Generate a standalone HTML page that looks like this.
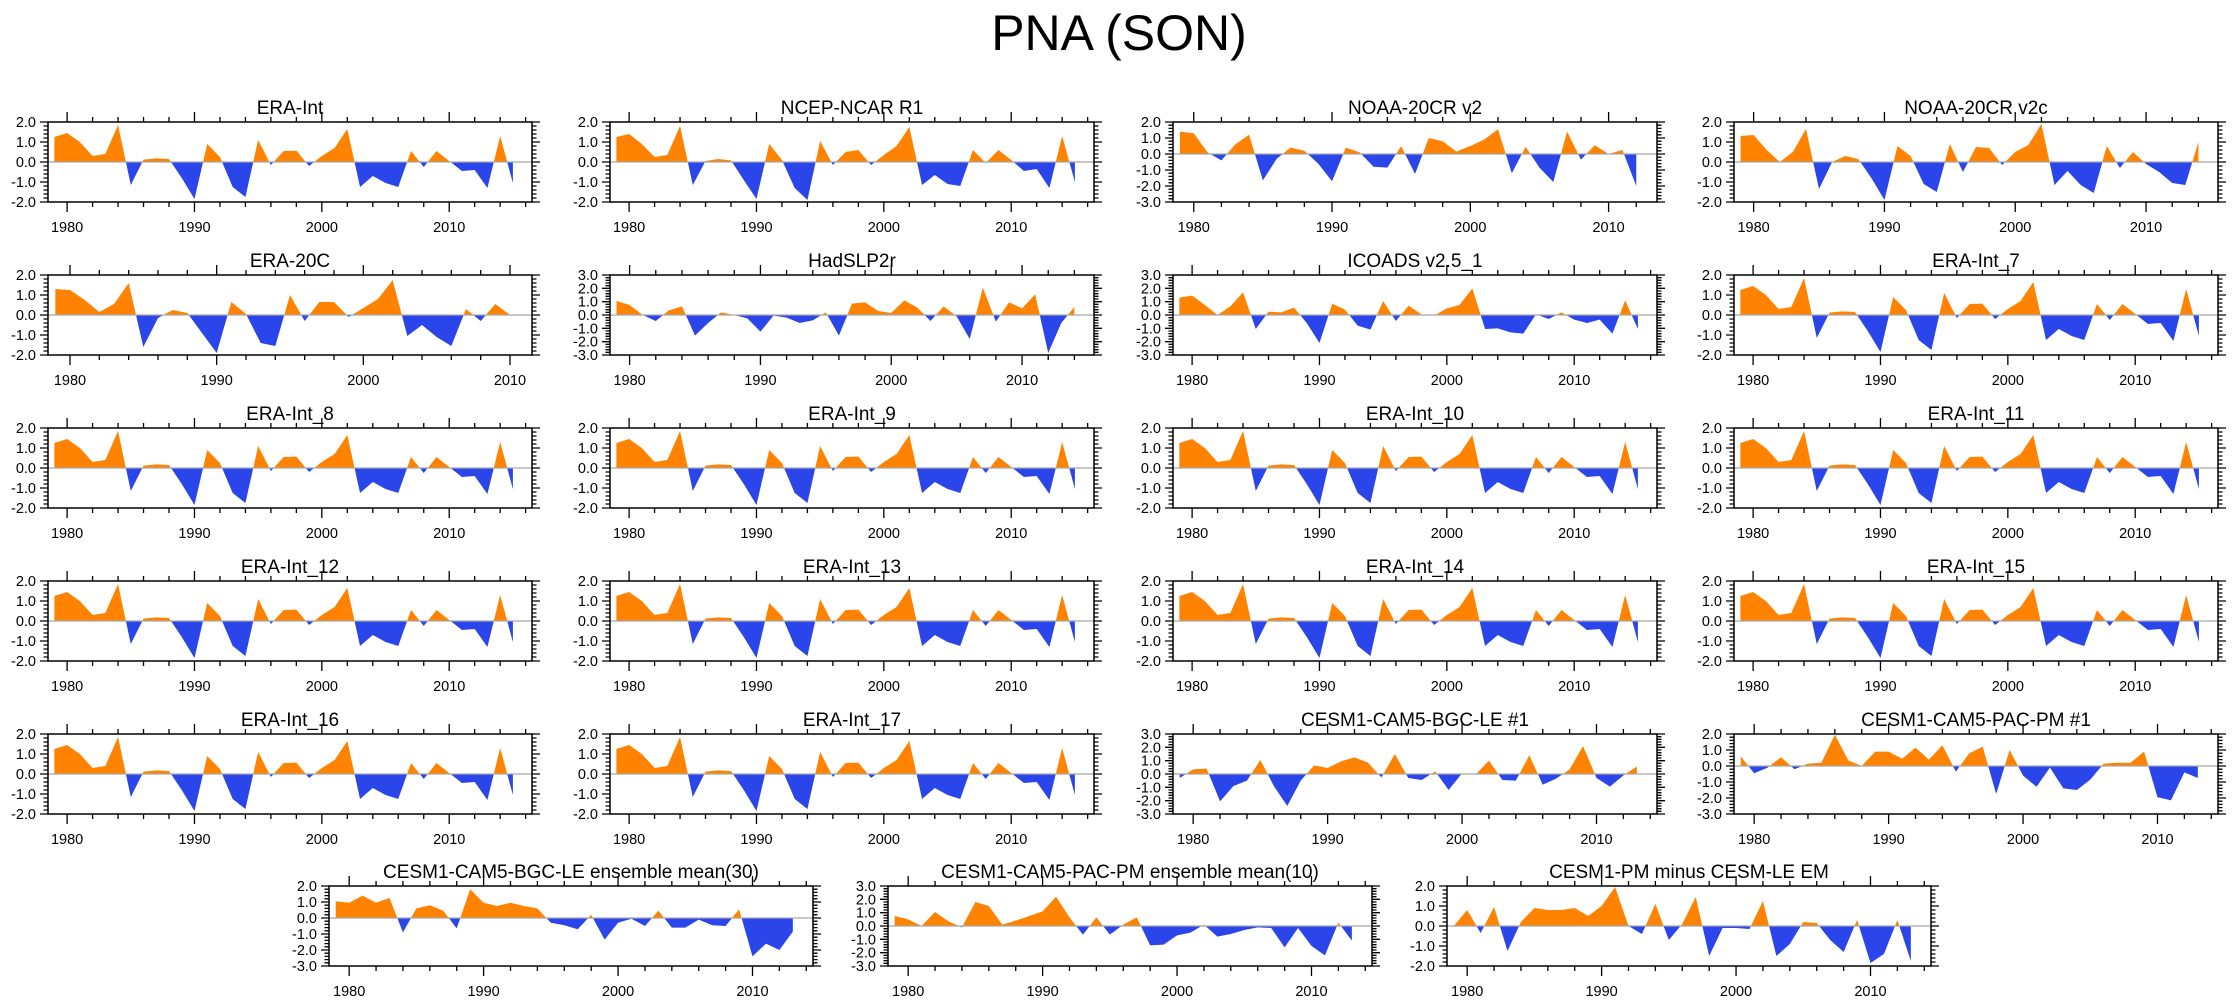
<!DOCTYPE html>
<html><head><meta charset="utf-8"><title>PNA (SON)</title>
<style>
html,body{margin:0;padding:0;background:#fff;}
svg{display:block;font-family:"Liberation Sans",Arial,sans-serif;}
</style></head>
<body>
<svg id="fig" xmlns="http://www.w3.org/2000/svg" width="2238" height="1005" viewBox="0 0 2238 1005">
<text x="1119" y="50" text-anchor="middle" font-size="50" fill="#000">PNA (SON)</text>
</svg>
<script>
// ---- data ----
const eraInt = [1.25,1.45,1.0,0.3,0.4,1.85,-1.15,0.12,0.18,0.15,-0.8,-1.85,0.9,0.25,-1.25,-1.75,1.1,-0.15,0.55,0.57,-0.2,0.3,0.7,1.65,-1.25,-0.7,-1.05,-1.25,0.55,-0.25,0.55,0.05,-0.45,-0.4,-1.3,1.3,-1.05];
const ncep = [1.25,1.4,0.9,0.25,0.35,1.8,-1.15,0.05,0.15,0.08,-0.9,-1.85,0.9,0.1,-1.3,-1.9,1.05,-0.15,0.5,0.6,-0.15,0.35,0.8,1.75,-1.15,-0.65,-1.1,-1.2,0.6,-0.05,0.6,0.1,-0.45,-0.35,-1.3,1.3,-1.0];
const noaaV2 = [1.4,1.3,0.1,-0.4,0.6,1.2,-1.65,-0.3,0.4,0.2,-0.6,-1.7,0.4,0.1,-0.8,-0.85,0.5,-1.25,1.0,0.8,0.15,0.5,0.9,1.55,-1.2,0.45,-0.85,-1.75,1.4,-0.35,0.55,0.0,0.25,-2.0];
const noaaV2c = [1.3,1.35,0.6,0.0,0.5,1.65,-1.35,0.0,0.3,0.15,-0.8,-1.9,0.8,0.3,-1.1,-1.5,0.9,-0.5,0.75,0.7,-0.15,0.5,0.85,1.9,-1.15,-0.45,-1.15,-1.55,0.8,-0.3,0.5,-0.1,-0.5,-1.05,-1.15,1.0];
const era20c = [1.3,1.25,0.75,0.15,0.55,1.6,-1.6,-0.15,0.25,0.1,-0.9,-1.9,0.65,0.05,-1.4,-1.55,1.0,-0.3,0.65,0.65,-0.1,0.35,0.8,1.75,-1.05,-0.5,-1.1,-1.55,0.3,-0.3,0.55,0.0];
const hadslp = [1.05,0.75,0.0,-0.45,0.35,0.65,-1.55,-0.6,0.2,0.0,-0.25,-1.25,-0.05,-0.2,-0.6,-0.4,0.2,-1.55,0.85,0.95,0.3,0.15,1.1,0.55,-0.45,0.65,-0.1,-1.8,2.05,-0.5,0.95,0.5,1.55,-2.85,-0.6,0.6];
const icoads = [1.3,1.45,0.75,0.0,0.65,1.7,-1.05,0.25,0.2,0.55,-0.6,-2.1,0.85,0.4,-0.8,-1.1,1.05,-0.45,0.7,0.05,-0.05,0.5,0.75,2.0,-1.05,-1.0,-1.3,-1.4,0.05,-0.3,0.2,-0.35,-0.6,-0.35,-1.4,1.1,-1.05];
const bgcLe1 = [-0.3,0.35,0.4,-2.05,-0.9,-0.5,1.05,-0.9,-2.4,-0.5,0.65,0.45,0.95,1.25,0.85,-0.25,1.5,-0.3,-0.45,0.2,-1.2,0.05,-0.05,1.0,-0.45,-0.5,1.4,-0.8,-0.35,0.35,2.1,-0.3,-0.95,-0.1,0.55];
const pacPm1 = [0.6,-0.45,-0.1,0.55,-0.2,0.15,0.2,1.95,0.35,0.0,0.9,0.9,0.45,1.15,0.4,1.3,-0.35,0.8,1.2,-1.75,1.0,-0.6,-1.3,-0.1,-1.4,-1.5,-0.85,0.15,0.2,0.2,0.9,-1.95,-2.15,-0.4,-0.75];
const bgcLeEm = [1.05,0.95,1.4,0.95,1.25,-0.9,0.6,0.8,0.45,-0.65,1.8,0.95,0.75,0.95,0.75,0.6,-0.3,-0.45,-0.7,0.2,-1.35,-0.3,-0.05,-0.5,0.45,-0.6,-0.6,-0.1,-0.45,-0.5,0.55,-2.4,-1.6,-2.0,-0.85];
const pacPmEm = [0.75,0.5,0.0,1.05,0.35,-0.1,1.8,1.5,0.1,0.4,0.75,1.1,2.2,0.65,-0.65,0.65,-0.65,0.1,0.65,-1.45,-1.4,-0.7,-0.5,0.1,-0.8,-0.6,-0.3,-0.1,-0.15,-1.6,-0.15,-1.5,-2.2,0.25,-1.1];
const pmMinusLe = [0.0,0.8,-0.35,0.95,-1.25,0.2,0.9,0.8,0.8,0.9,0.5,1.0,1.95,0.0,-0.4,1.1,-0.7,0.1,1.45,-1.5,-0.1,-0.1,-0.15,1.25,-1.5,-0.9,0.2,0.15,-0.7,-1.3,0.3,-1.85,-1.4,0.3,-1.75];

const titles = ["ERA-Int","NCEP-NCAR R1","NOAA-20CR v2","NOAA-20CR v2c","ERA-20C","HadSLP2r","ICOADS v2.5_1","ERA-Int_7","ERA-Int_8","ERA-Int_9","ERA-Int_10","ERA-Int_11","ERA-Int_12","ERA-Int_13","ERA-Int_14","ERA-Int_15","ERA-Int_16","ERA-Int_17","CESM1-CAM5-BGC-LE #1","CESM1-CAM5-PAC-PM #1","CESM1-CAM5-BGC-LE ensemble mean(30)","CESM1-CAM5-PAC-PM ensemble mean(10)","CESM1-PM minus CESM-LE EM"];
const series = [eraInt,ncep,noaaV2,noaaV2c,era20c,hadslp,icoads,eraInt,eraInt,eraInt,eraInt,eraInt,eraInt,eraInt,eraInt,eraInt,eraInt,eraInt,bgcLe1,pacPm1,bgcLeEm,pacPmEm,pmMinusLe];
const yMins = [-2,-2,-3,-2,-2,-3,-3,-2,-2,-2,-2,-2,-2,-2,-2,-2,-2,-2,-3,-3,-3,-3,-2];
const yMaxs = [2,2,2,2,2,3,3,2,2,2,2,2,2,2,2,2,2,2,3,2,2,3,2];
const firstYear = 1979;

// ---- layout ----
const NS = "http://www.w3.org/2000/svg";
const svg = document.getElementById('fig');
const W = 484, H = 80;
const colX = [48, 610, 1173, 1734];
const rowY0 = 122, rowPitch = 153;
const bottomX = [329, 888, 1447];
const bottomY = 886;
const ORANGE = "#ff8200", BLUE = "#2a45ea";

function mk(tag, attrs, parent){
  const e = document.createElementNS(NS, tag);
  for (const k in attrs) e.setAttribute(k, attrs[k]);
  (parent||svg).appendChild(e);
  return e;
}
function slug(s){ return s.toLowerCase().replace(/[^a-z0-9]+/g,'-').replace(/^-|-$/g,''); }

function drawPanel(i, px, py){
  const vals = series[i], ymin = yMins[i], ymax = yMaxs[i];
  const lastYear = firstYear + vals.length - 1;
  const xmin = firstYear - 0.5, xmax = lastYear + 1.5;
  const sx = y => px + (y - xmin) / (xmax - xmin) * W;
  const sy = v => py + (ymax - v) / (ymax - ymin) * H;
  const g = mk('g', {});
  
  

  // title
  const t = mk('text', {x: px + W/2, y: py - 8, 'text-anchor':'middle', 'font-size': 19, fill:'#000'}, g);
  
  
  t.textContent = titles[i];

  // area with clip
  const cidU = 'cu' + i, cidD = 'cd' + i;
  const defs = mk('defs', {}, g);
  const cu = mk('clipPath', {id: cidU}, defs);
  mk('rect', {x: px, y: py, width: W, height: sy(0) - py}, cu);
  const cd = mk('clipPath', {id: cidD}, defs);
  mk('rect', {x: px, y: sy(0), width: W, height: py + H - sy(0)}, cd);
  let d = 'M' + sx(firstYear).toFixed(2) + ',' + sy(0).toFixed(2);
  vals.forEach((v, k) => { d += ' L' + sx(firstYear + k).toFixed(2) + ',' + sy(v).toFixed(2); });
  d += ' L' + sx(lastYear).toFixed(2) + ',' + sy(0).toFixed(2) + ' Z';
  const up = mk('path', {d: d, fill: ORANGE, 'clip-path': 'url(#' + cidU + ')'}, g);
  
  
  const dn = mk('path', {d: d, fill: BLUE, 'clip-path': 'url(#' + cidD + ')'}, g);
  
  
  const zl = mk('line', {x1: px, x2: px + W, y1: sy(0), y2: sy(0), stroke: '#a8a8a8', 'stroke-width': 1.2}, g);
  
  

  // ticks
  let tk = '';
  for (let v = ymin; v <= ymax + 1e-6; v += 0.2) {
    const yy = sy(v).toFixed(2);
    const major = Math.abs(v - Math.round(v)) < 1e-6;
    const L = major ? 8 : 4.5;
    tk += 'M' + (px - L) + ',' + yy + 'H' + px + 'M' + (px + W) + ',' + yy + 'H' + (px + W + L);
  }
  for (let y = 1978; y <= xmax; y += 2) {
    if (y < xmin) continue;
    const xx = sx(y).toFixed(2);
    const major = y % 10 === 0;
    const L = major ? 10 : 5;
    tk += 'M' + xx + ',' + (py - L) + 'V' + py + 'M' + xx + ',' + (py + H) + 'V' + (py + H + L);
  }
  mk('path', {d: tk, stroke: '#000', 'stroke-width': 1.3, fill: 'none'}, g);
  const fr = mk('rect', {x: px, y: py, width: W, height: H, fill: 'none', stroke: '#000', 'stroke-width': 1.5}, g);
  
  

  // y labels
  for (let v = ymin; v <= ymax; v += 1) {
    const tl = mk('text', {x: px - 12, y: sy(v) + 5, 'text-anchor': 'end', 'font-size': 14.5, fill: '#000'}, g);
    
    
    tl.textContent = v.toFixed(1);
  }
  // x labels
  for (let y = 1980; y <= xmax; y += 10) {
    const xl = mk('text', {x: sx(y), y: py + H + 30, 'text-anchor': 'middle', 'font-size': 14.5, fill: '#000'}, g);
    
    
    xl.textContent = String(y);
  }
}

for (let i = 0; i < 20; i++) {
  drawPanel(i, colX[i % 4], rowY0 + Math.floor(i / 4) * rowPitch);
}
for (let j = 0; j < 3; j++) {
  drawPanel(20 + j, bottomX[j], bottomY);
}
</script>
</body></html>
